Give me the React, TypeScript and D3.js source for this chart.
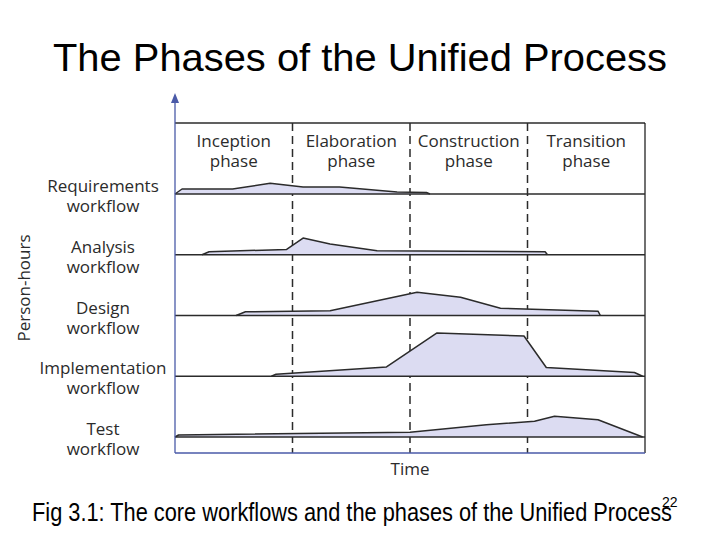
import React from 'react';
import * as d3 from 'd3';

// phases along the time axis (one unit each)
const phases = ['Inception', 'Elaboration', 'Construction', 'Transition'];
const workflows = ['Requirements', 'Analysis', 'Design', 'Implementation', 'Test'];

// effort profiles: [time in phase units, person-hours]
const requirements: [number, number][] = [
  [0, 0], [0.06, 5], [0.49, 5], [0.81, 10.7], [1.09, 7], [1.4, 7], [1.89, 2], [2.14, 1.5], [2.17, 0],
];
const analysis: [number, number][] = [
  [0.23, 0], [0.29, 3], [0.95, 5.3], [1.09, 16.7], [1.32, 10.7], [1.72, 4], [3.15, 3], [3.17, 0],
];
const design: [number, number][] = [
  [0.52, 0], [0.6, 3.7], [1.32, 4.7], [2.06, 23.3], [2.43, 18.3], [2.77, 7.3], [3.6, 4.3], [3.62, 0],
];
const implementation: [number, number][] = [
  [0.82, 0], [0.86, 2], [1.8, 9.3], [2.23, 43.3], [2.97, 40.3], [3.16, 8.7], [3.91, 3.7], [3.98, 0],
];
const test: [number, number][] = [
  [0, 0], [0.03, 2], [2.0, 4.7], [2.65, 12.3], [3.06, 15.7], [3.23, 20.7], [3.6, 17.3], [3.98, 0],
];
const profiles = [requirements, analysis, design, implementation, test];

const left = 175;
const right = 645;
const top = 123;
const bottom = 453;

const axisBlue = '#4a5aa8';
const ink = '#2b2b2b';
const labelFont = '"Open Sans", "Noto Sans", sans-serif';
const slideFont = "'Liberation Sans', Arial, sans-serif";

export default function App() {
  const x = d3.scaleLinear().domain([0, phases.length]).range([left, right]);
  const row = d3.scalePoint<string>().domain(workflows).range([194, 437]);
  const h = d3.scaleLinear().domain([0, 45]).range([0, 45]);

  return (
    <svg width={720} height={540} style={{ position: 'absolute', left: 0, top: 0, background: '#fff' }}>
      <text x={53} y={71} fontFamily={slideFont} fontSize={39} textLength={614} lengthAdjust="spacingAndGlyphs" fill="#000">
        The Phases of the Unified Process
      </text>

      {/* frame */}
      <line x1={left} x2={right} y1={top} y2={top} stroke={ink} strokeWidth={1.3} />
      <line x1={right} x2={right} y1={top} y2={bottom} stroke="#111" strokeWidth={1.2} />

      {/* phase dividers */}
      {d3.range(1, phases.length).map(i => (
        <line key={i} x1={x(i)} x2={x(i)} y1={top} y2={bottom} stroke={ink} strokeWidth={1.5} strokeDasharray="8,5" />
      ))}

      {phases.map((p, i) => (
        <g key={p} fontFamily={labelFont} fontSize={17} fill={ink} textAnchor="middle">
          <text x={x(i + 0.5)} y={147}>{p}</text>
          <text x={x(i + 0.5)} y={167}>phase</text>
        </g>
      ))}

      {/* workflows */}
      {workflows.map((w, i) => {
        const base = row(w)!;
        const area = d3.area<[number, number]>()
          .x(d => x(d[0]))
          .y0(base)
          .y1(d => base - h(d[1]));
        const line = d3.line<[number, number]>()
          .x(d => x(d[0]))
          .y(d => base - h(d[1]));
        return (
          <g key={w}>
            <path d={area(profiles[i]) || ''} fill="#dcdcf2" />
            <path d={line(profiles[i]) || ''} fill="none" stroke={ink} strokeWidth={1.5} strokeLinejoin="round" />
            <line x1={left} x2={right} y1={base} y2={base} stroke={ink} strokeWidth={1.5} />
            <g fontFamily={labelFont} fontSize={17} fill={ink} textAnchor="middle">
              <text x={103} y={base - 2}>{w}</text>
              <text x={103} y={base + 18}>workflow</text>
            </g>
          </g>
        );
      })}

      {/* axes */}
      <line x1={left} x2={right} y1={bottom} y2={bottom} stroke={axisBlue} strokeWidth={1.3} />
      <line x1={left} x2={left} y1={bottom} y2={100} stroke={axisBlue} strokeWidth={1.3} />
      <path d={`M${left},93 L${left - 4},103 L${left + 4},103 Z`} fill={axisBlue} />

      <text x={410} y={475} textAnchor="middle" fontFamily={labelFont} fontSize={17} fill={ink}>Time</text>
      <text transform="translate(30,288) rotate(-90)" textAnchor="middle" fontFamily={labelFont} fontSize={17} fill={ink}>
        Person-hours
      </text>

      <text x={32} y={521} fontFamily="'Liberation Sans Narrow', 'Liberation Sans', Arial, sans-serif" fontSize={25}
        textLength={640} lengthAdjust="spacingAndGlyphs" fill="#000">
        Fig 3.1: The core workflows and the phases of the Unified Process
      </text>
      <text x={662} y={507} fontFamily="'Liberation Sans Narrow', 'Liberation Sans', Arial, sans-serif" fontSize={14} fill="#000">22</text>
    </svg>
  );
}
